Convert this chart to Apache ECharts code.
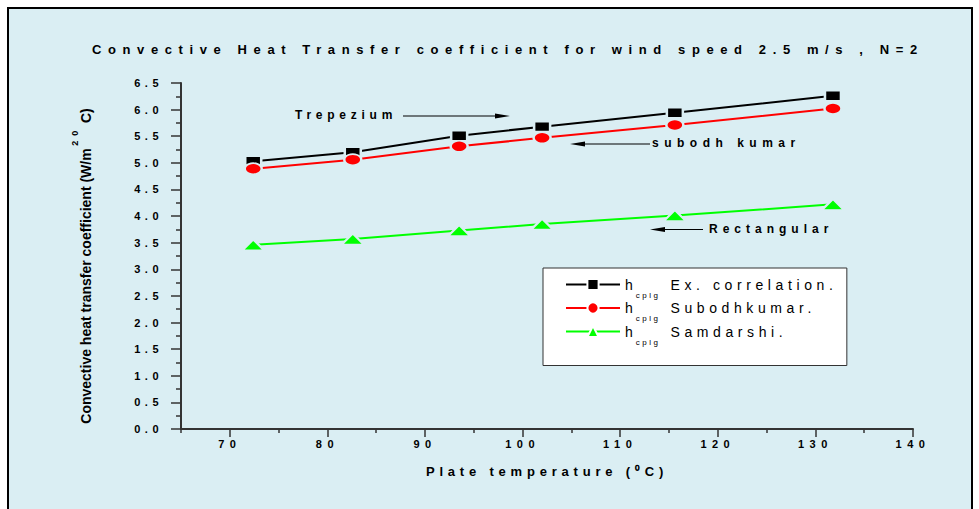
<!DOCTYPE html>
<html>
<head>
<meta charset="utf-8">
<script src="https://cdn.jsdelivr.net/npm/echarts@6/dist/echarts.min.js"></script>
<style>
html, body { margin: 0; padding: 0; background: #fff; }
#chart { width: 979px; height: 509px; }
</style>
</head>
<body>
<div id="chart"></div>
<script>
var FONT = '"Liberation Sans", Arial, sans-serif';
var BG = '#daeef3';

// values
var plateTemp = [72.4, 82.6, 93.5, 102.0, 115.6, 131.8];
var exCorrelation = [5.03, 5.20, 5.51, 5.68, 5.94, 6.26];
var subodhkumar = [4.89, 5.06, 5.31, 5.47, 5.71, 6.02];
var samdarshi = [3.46, 3.57, 3.73, 3.85, 4.01, 4.22];

var xMajorTicks = [70, 80, 90, 100, 110, 120, 130, 140];
var xMinorTicks = [65, 75, 85, 95, 105, 115, 125, 135];
var seriesNames = ['Ex. correlation.', 'Subodhkumar.', 'Samdarshi.'];
var titleText = 'Convective Heat Transfer coefficient for wind speed 2.5 m/s , N=2';

function pairs(xs, ys) {
  return xs.map(function (x, i) { return [x, ys[i]]; });
}

// the original text is drawn letter-spaced; svg text takes css letter-spacing
var spacing = {};
spacing[titleText] = 6.6;
spacing['Trepezium'] = 4.75;
spacing['subodh kumar'] = 5.5;
spacing['Rectangular'] = 5.0;
spacing['Plate temperature (\u2070C)'] = 4.8;
spacing['cplg'] = 2.5;
seriesNames.forEach(function (n) { spacing[n] = 4.6; });

function spacingFor(s) {
  if (spacing.hasOwnProperty(s)) return spacing[s];
  if (/^\d\.\d$/.test(s)) return 4.5;
  if (/^\d{2,3}$/.test(s)) return 5.5;
  return 0;
}
function applySpacing() {
  var nodes = document.querySelectorAll('#chart text');
  for (var i = 0; i < nodes.length; i++) {
    var sp = spacingFor(nodes[i].textContent);
    if (sp) nodes[i].style.letterSpacing = sp + 'px';
  }
}

var chart = echarts.init(document.getElementById('chart'), null, { renderer: 'svg' });

var axisColor = '#333';
var option = {
  animation: false,
  backgroundColor: '#fff',
  textStyle: { fontFamily: FONT },
  title: {
    text: titleText,
    left: 87,
    top: 38,
    textStyle: { fontSize: 13, fontWeight: 'bold', color: '#000', fontFamily: FONT }
  },
  grid: { left: 181, right: 66, top: 83, bottom: 80 },
  legend: {
    orient: 'vertical',
    left: 543,
    top: 268,
    padding: [9.5, 9, 19.5, 22],
    itemWidth: 54,
    itemHeight: 14,
    itemGap: 2,
    selectedMode: false,
    backgroundColor: '#fff',
    borderColor: '#333',
    borderWidth: 1,
    borderRadius: 0,
    itemStyle: { borderColor: '#fff', borderWidth: 2 },
    data: seriesNames,
    formatter: function (name) {
      return '{h|h}{s|cplg}{t|' + name + '}';
    },
    textStyle: {
      color: '#000',
      fontFamily: FONT,
      rich: {
        h: { fontSize: 14, lineHeight: 23, color: '#000', fontFamily: FONT },
        s: { fontSize: 8, verticalAlign: 'bottom', padding: [0, 20, -3, 3], color: '#000', fontFamily: FONT },
        t: { fontSize: 14, lineHeight: 23, padding: [0, 74, 0, 0], color: '#000', fontFamily: FONT }
      }
    }
  },
  xAxis: [
    {
      type: 'value',
      min: 65,
      max: 140,
      name: 'Plate temperature (\u2070C)',
      nameLocation: 'middle',
      nameGap: 36,
      nameTextStyle: { fontSize: 13, fontWeight: 'bold', color: '#000', fontFamily: FONT },
      axisLine: { show: true, onZero: false, lineStyle: { color: axisColor, width: 2 } },
      axisTick: { show: true, length: 8, customValues: xMajorTicks, lineStyle: { color: axisColor, width: 1.5 } },
      axisLabel: { customValues: xMajorTicks, margin: 9, fontSize: 11, fontWeight: 'bold', color: '#000', fontFamily: FONT },
      splitLine: { show: false }
    },
    {
      type: 'value',
      min: 65,
      max: 140,
      position: 'bottom',
      axisLine: { show: false },
      axisTick: { show: true, length: 4, customValues: xMinorTicks, lineStyle: { color: axisColor, width: 1.5 } },
      axisLabel: { show: false },
      splitLine: { show: false }
    }
  ],
  yAxis: {
    type: 'value',
    min: 0,
    max: 6.5,
    interval: 0.5,
    name: '{a|Convective heat transfer coefficient (W/m}{s| 2  0}{c|  C)}',
    nameLocation: 'middle',
    nameGap: 79,
    nameTextStyle: {
      rich: {
        a: { fontSize: 14, fontWeight: 'bold', lineHeight: 32, color: '#000', fontFamily: FONT },
        c: { fontSize: 14, fontWeight: 'bold', lineHeight: 32, padding: [0, 20, 0, 0], color: '#000', fontFamily: FONT },
        s: { fontSize: 9, fontWeight: 'bold', lineHeight: 10, verticalAlign: 'top', color: '#000', fontFamily: FONT }
      }
    },
    axisLine: { show: true, onZero: false, lineStyle: { color: axisColor, width: 2 } },
    axisTick: { show: true, length: 10, lineStyle: { color: axisColor, width: 1.5 } },
    minorTick: { show: true, splitNumber: 2, length: 5, lineStyle: { color: axisColor, width: 1.5 } },
    axisLabel: {
      margin: 18,
      fontSize: 11,
      fontWeight: 'bold',
      color: '#000',
      fontFamily: FONT,
      formatter: function (v) { return v.toFixed(1); }
    },
    splitLine: { show: false }
  },
  series: [
    {
      name: seriesNames[0],
      type: 'line',
      data: pairs(plateTemp, exCorrelation),
      symbol: 'rect',
      symbolSize: [16, 10],
      lineStyle: { color: '#000', width: 2 },
      itemStyle: { color: '#000', borderColor: BG, borderWidth: 2 },
      emphasis: { disabled: true }
    },
    {
      name: seriesNames[1],
      type: 'line',
      data: pairs(plateTemp, subodhkumar),
      symbol: 'circle',
      symbolSize: [17, 11],
      lineStyle: { color: '#ff0000', width: 2 },
      itemStyle: { color: '#ff0000', borderColor: BG, borderWidth: 2 },
      emphasis: { disabled: true }
    },
    {
      name: seriesNames[2],
      type: 'line',
      data: pairs(plateTemp, samdarshi),
      symbol: 'triangle',
      symbolSize: [22, 11],
      lineStyle: { color: '#00ff00', width: 2 },
      itemStyle: { color: '#00ff00', borderColor: BG, borderWidth: 2 },
      emphasis: { disabled: true }
    }
  ],
  graphic: [
    {
      type: 'rect', z: -100, silent: true,
      shape: { x: 8, y: 8, width: 964, height: 520 },
      style: { fill: BG, stroke: '#000', lineWidth: 2 }
    },
    // annotations with arrows
    {
      type: 'text', x: 295, y: 115,
      style: { text: 'Trepezium', fontSize: 12, fontWeight: 'bold', fontFamily: FONT, fill: '#000', verticalAlign: 'middle' }
    },
    { type: 'line', shape: { x1: 403, y1: 116, x2: 500, y2: 116 }, style: { stroke: '#000', lineWidth: 1 } },
    { type: 'polygon', shape: { points: [[510, 116], [495, 113.5], [495, 118.5]] }, style: { fill: '#000' } },
    {
      type: 'text', x: 652, y: 143,
      style: { text: 'subodh kumar', fontSize: 12, fontWeight: 'bold', fontFamily: FONT, fill: '#000', verticalAlign: 'middle' }
    },
    { type: 'line', shape: { x1: 580, y1: 144, x2: 650, y2: 144 }, style: { stroke: '#000', lineWidth: 1 } },
    { type: 'polygon', shape: { points: [[570, 144], [585, 141.5], [585, 146.5]] }, style: { fill: '#000' } },
    {
      type: 'text', x: 709, y: 229,
      style: { text: 'Rectangular', fontSize: 12, fontWeight: 'bold', fontFamily: FONT, fill: '#000', verticalAlign: 'middle' }
    },
    { type: 'line', shape: { x1: 660, y1: 229.5, x2: 703, y2: 229.5 }, style: { stroke: '#000', lineWidth: 1 } },
    { type: 'polygon', shape: { points: [[650, 229.5], [665, 227], [665, 232]] }, style: { fill: '#000' } }
  ]
};

chart.setOption(option);
applySpacing();
chart.on('finished', applySpacing);
</script>
</body>
</html>
